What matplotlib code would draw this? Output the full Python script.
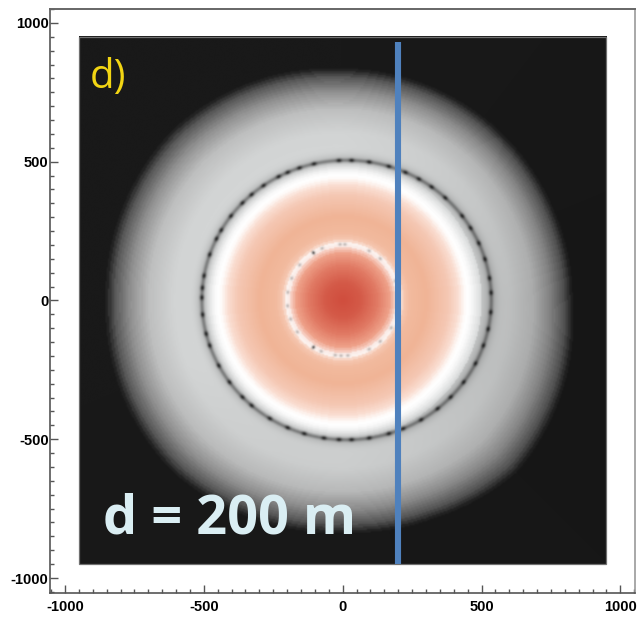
import numpy as np
import matplotlib
matplotlib.use("Agg")
import matplotlib.pyplot as plt
from matplotlib.colors import LinearSegmentedColormap
from matplotlib.patches import Rectangle
from matplotlib.ticker import MultipleLocator

# radial colour profile of the map
profile_r = [0, 60, 120, 165, 186, 196, 204, 215, 240, 300, 380, 415, 438, 450, 462, 480, 500, 520,
             600, 680, 740, 790, 818, 825, 1000]
profile_rgb = [(208, 78, 62), (212, 90, 72), (225, 122, 100), (238, 160, 136), (248, 210, 198),
               (252, 250, 250), (252, 240, 235), (246, 200, 178), (242, 186, 158), (240, 180, 150),
               (245, 200, 180), (250, 222, 210), (254, 250, 248), (255, 255, 255), (250, 250, 250),
               (234, 235, 235), (218, 220, 220), (212, 214, 214), (210, 212, 212), (190, 191, 191),
               (145, 145, 145), (88, 88, 88), (32, 32, 32), (25, 25, 25), (25, 25, 25)]

# where the grey halo ends and how bright it is, by direction
edge_angle = [0, 22.5, 45, 67.5, 90, 112.5, 135, 157.5, 180, 202.5, 225, 247.5, 270, 292.5, 315, 337.5, 360]
edge_radius = [828, 826, 830, 832, 834, 852, 868, 862, 856, 866, 872, 852, 838, 852, 882, 856, 828]
halo_gain = [0.90, 0.92, 0.95, 0.98, 1.0, 1.0, 1.0, 1.0, 1.0, 1.0, 0.98, 0.97, 0.97, 0.95, 0.92, 0.90, 0.90]

# lumps on the two rings, angles in degrees
outer_dark = [3, 9, 17, 24, 31, 37, 47, 54, 60, 66, 73, 81, 88, 93, 103, 109, 114, 118, 125, 131, 136,
              143, 150, 154, 161, 170, 175, 179, 186, 194, 199, 208, 216, 224, 229, 238, 246, 253,
              261, 267, 272, 279, 287, 293, 301, 309, 316, 324, 333, 341, 348, 355]
inner_dark = [20, 48, 62, 88, 93, 112, 141, 157, 172, 186, 200, 215, 247, 262, 268, 275, 298, 312, 330, 345]
inner_spot = [122, 238]

xticks = [-1000, -500, 0, 500, 1000]
yticks = [-1000, -500, 0, 500, 1000]

plt.rcParams["font.family"] = "Liberation Sans"
plt.rcParams["axes.unicode_minus"] = False


def lumps(angle, centres, width):
    out = np.zeros_like(angle)
    for c in centres:
        diff = (angle - c + 180) % 360 - 180
        out = np.maximum(out, np.exp(-(diff / width) ** 2))
    return out


fig = plt.figure(figsize=(6.44, 6.20), dpi=100)
ax = fig.add_axes([50 / 644, 27 / 620, 584.5 / 644, 584 / 620])

# polar field
grid = np.linspace(-950, 950, 420)
xx, yy = np.meshgrid(grid, grid)
rr = np.hypot(xx, yy)
theta = np.degrees(np.arctan2(yy, xx)) % 360
edge = np.interp(theta, edge_angle, edge_radius)
vv = np.where(rr < 520, rr, 520 + (rr - 520) / (edge - 520) * 298)
vv = np.clip(vv, 0, 1000)

stops = [(r / 1000, tuple(c / 255 for c in rgb)) for r, rgb in zip(profile_r, profile_rgb)]
cmap = LinearSegmentedColormap.from_list("halo", stops, N=110)
rgba = cmap(vv / 1000)
gain = np.interp(theta, edge_angle, halo_gain)
rgb = rgba[..., :3]
rgb[:] = np.where((rr > 500)[..., None], rgb * gain[..., None], rgb)

# dark ring, a little off centre and not quite round
cx, rx, ry = 13, 522, 504
dist = (np.hypot((xx - cx) / rx, yy / ry) - 1) * 510
ang = np.degrees(np.arctan2(yy / ry, (xx - cx) / rx)) % 360
dark = (0.3 + 0.45 * lumps(ang, outer_dark, 1.0)) * np.exp(-(dist / 7) ** 2)
dark = dark + 0.13 * np.exp(-(dist / 22) ** 2)
rgb[:] = rgb * (1 - np.clip(dark, 0, 0.9))[..., None]

# grey flecks on the inner ring
dist2 = rr - 201
grey = 0.28 * lumps(theta, inner_dark, 1.8) * np.exp(-(dist2 / 5) ** 2)
grey = grey + 0.75 * lumps(theta, inner_spot, 1.4) * np.exp(-(dist2 / 6) ** 2)
rgb[:] = rgb * (1 - np.clip(grey, 0, 0.9))[..., None]

ax.imshow(rgba, extent=[-950, 950, -950, 950], origin="lower", interpolation="bicubic", zorder=1)
ax.add_patch(Rectangle((-950, -950), 1900, 1900, fill=False, ec="#707070", lw=0.9, zorder=4))

ax.plot([199, 199], [930, -950], color="#4F81BD", lw=4.4, solid_capstyle="butt", zorder=5)

ax.text(-910, 766, "d)", color="#F2D513", fontsize=29, family="Open Sans", zorder=6)
ax.text(-863, -838, "d = 200 m", color="#DAEEF3", fontsize=39, family="Open Sans",
        weight="bold", zorder=6)

ax.set_xlim(-1054, 1051)
ax.set_ylim(-1054, 1050)
ax.set_aspect("auto")

ax.set_xticks(xticks)
ax.set_yticks(yticks)
ax.xaxis.set_minor_locator(MultipleLocator(50))
ax.yaxis.set_minor_locator(MultipleLocator(50))
ax.tick_params(which="major", direction="in", length=6, width=1, color="#555555",
               labelsize=10.5, pad=5)
ax.tick_params(which="minor", direction="in", length=3, width=1, color="#555555")
ax.tick_params(axis="y", pad=1)
for lab in ax.get_xticklabels() + ax.get_yticklabels():
    lab.set_fontweight("bold")

ax.spines["left"].set(color="#555555", lw=1.2)
ax.spines["bottom"].set(color="#555555", lw=1.2)
ax.spines["top"].set(color="#666666", lw=1.4)
ax.spines["right"].set(color="#999999", lw=1.2)

fig.savefig("out.png", dpi=100)
